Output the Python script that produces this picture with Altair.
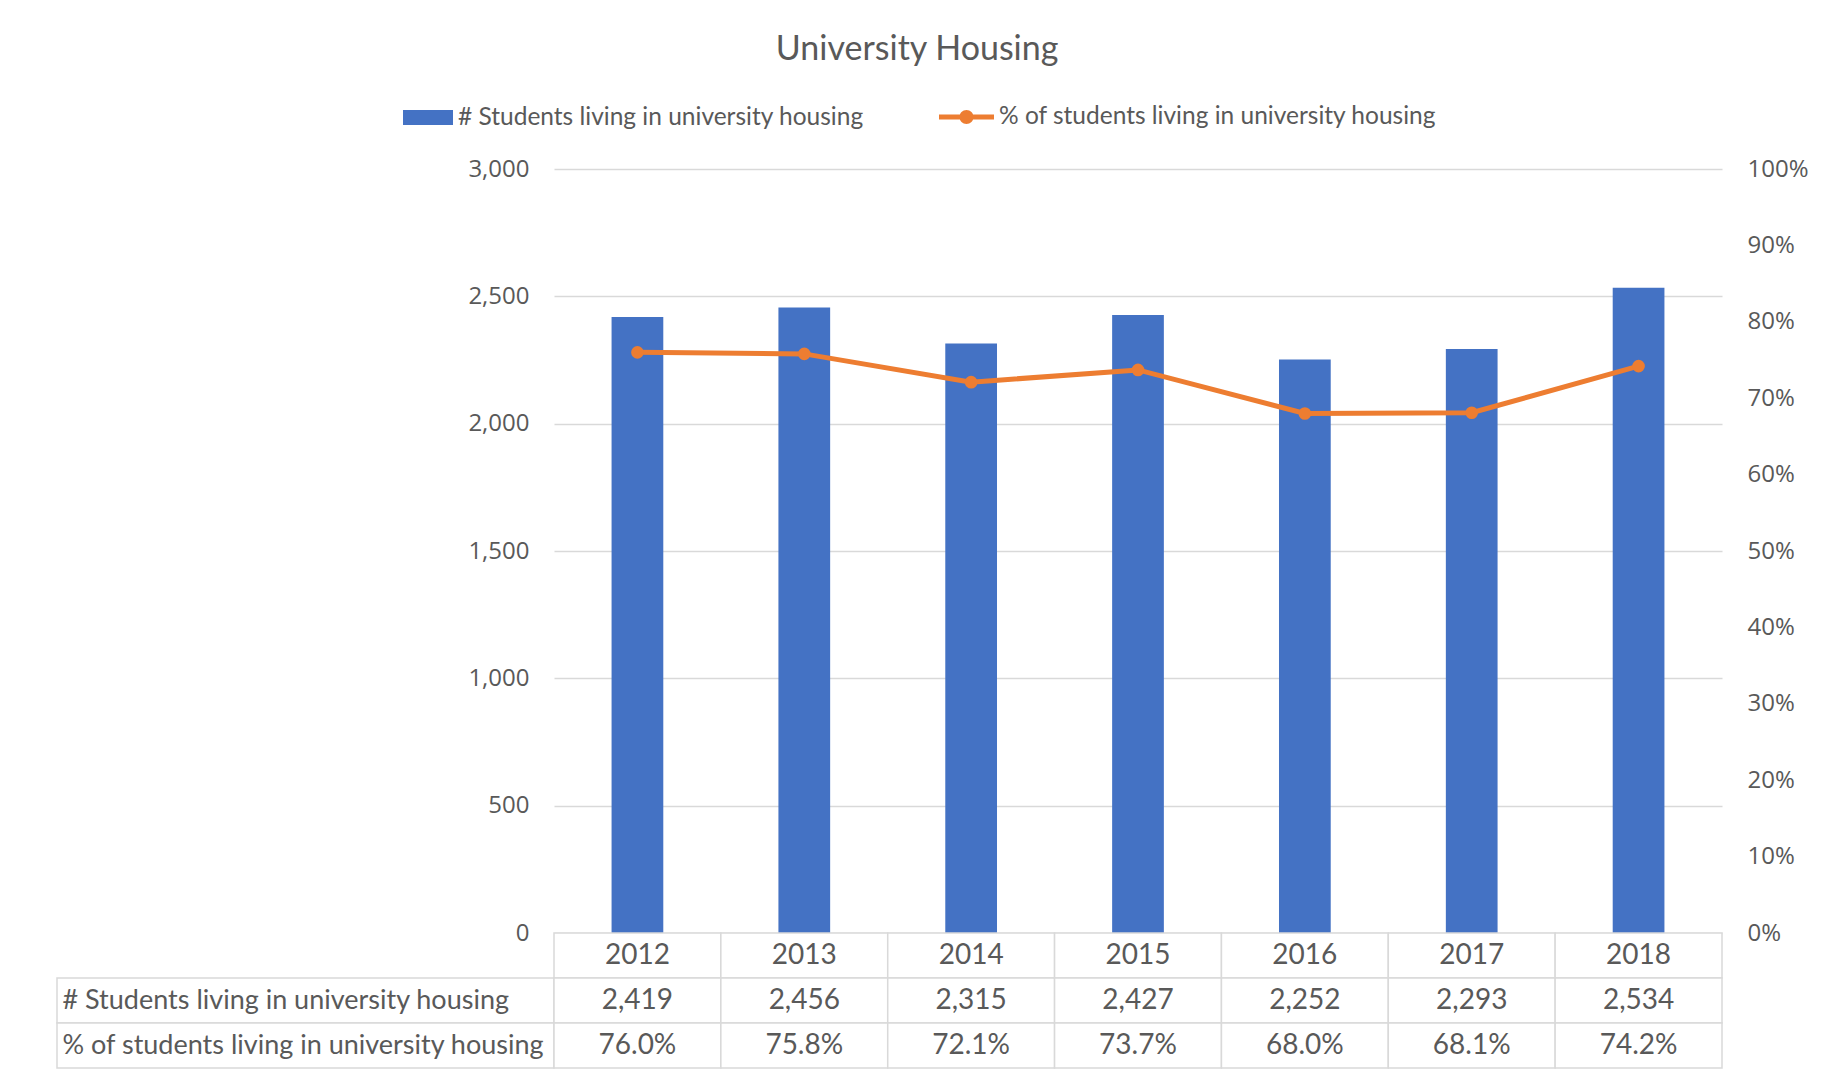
import altair as alt
import pandas as pd

years = ["2012", "2013", "2014", "2015", "2016", "2017", "2018"]
students = [2419, 2456, 2315, 2427, 2252, 2293, 2534]
pct = [76.0, 75.8, 72.1, 73.7, 68.0, 68.1, 74.2]
count_label = "# Students living in university housing"
pct_label = "% of students living in university housing"
title_text = "University Housing"

BLUE = "#4472C4"
ORANGE = "#ED7D31"
GRID = "#D9D9D9"
TEXT = "#595959"
FONT = "Lato"
AXFONT = "Open Sans"

W = 1168
H = 764
ROW_H = 45

df = pd.DataFrame({
    "year": years,
    "students": students,
    "pct": [p / 100 for p in pct],
    "s1": [count_label] * len(years),
    "s2": [pct_label] * len(years),
})

xscale = alt.Scale(domain=years, paddingInner=0.69, paddingOuter=0.345)

bars = alt.Chart(df).mark_bar().encode(
    x=alt.X("year:N", axis=None, scale=xscale),
    y=alt.Y("students:Q", scale=alt.Scale(domain=[0, 3000]),
            axis=alt.Axis(values=list(range(0, 3001, 500)), format=",.0f", grid=True,
                          gridColor=GRID, gridWidth=1.5, domain=False, ticks=False,
                          labelPadding=25, labelFont=AXFONT, labelFontSize=24,
                          labelColor=TEXT, title=None)),
    fill=alt.Fill("s1:N", scale=alt.Scale(domain=[count_label], range=[BLUE]),
                  legend=alt.Legend(orient="none", legendX=-151, legendY=-76.5, title=None,
                                    symbolType="M-1,-0.3H1V0.3H-1Z", symbolSize=2500,
                                    symbolStrokeWidth=0, labelFont=FONT, labelFontSize=24.5,
                                    labelColor=TEXT, labelOffset=5, labelLimit=800)),
)

pct_axis = alt.Axis(orient="right", values=[i / 10 for i in range(11)], format=".0%",
                    grid=False, domain=False, ticks=False, labelPadding=25,
                    labelFont=AXFONT, labelFontSize=24, labelColor=TEXT, title=None)
pct_scale = alt.Scale(domain=[0, 1])

line = alt.Chart(df).mark_line(color=ORANGE, strokeWidth=5).encode(
    x=alt.X("year:N", axis=None, scale=xscale),
    y=alt.Y("pct:Q", scale=pct_scale, axis=pct_axis),
)

points = alt.Chart(df).mark_circle(size=160, opacity=1).encode(
    x=alt.X("year:N", axis=None, scale=xscale),
    y=alt.Y("pct:Q", scale=pct_scale, axis=pct_axis),
    fill=alt.Fill("s2:N", scale=alt.Scale(domain=[pct_label], range=[ORANGE]),
                  legend=alt.Legend(orient="none", legendX=385, legendY=-79.5, title=None,
                                    symbolType="M-1,-0.09H1V0.09H-1Z M0.255,0A0.255,0.255,0,1,1,-0.255,0A0.255,0.255,0,1,1,0.255,0Z",
                                    symbolSize=3025, symbolStrokeWidth=0, labelFont=FONT,
                                    labelFontSize=24.5, labelColor=TEXT, labelOffset=5,
                                    labelLimit=800)),
)

top = alt.layer(bars, alt.layer(line, points)).resolve_scale(
    y="independent", fill="independent"
).properties(width=W, height=H)

# data table
rows = ["Year", count_label, pct_label]
recs = []
for yv, s, p in zip(years, students, pct):
    recs.append({"year": yv, "row": "Year", "text": yv})
    recs.append({"year": yv, "row": count_label, "text": f"{s:,}"})
    recs.append({"year": yv, "row": pct_label, "text": f"{p:.1f}%"})
tdf = pd.DataFrame(recs)
ldf = pd.DataFrame({"row": [count_label, pct_label]})

yrow = alt.Y("row:N", sort=rows,
             scale=alt.Scale(domain=rows, paddingInner=0, paddingOuter=0),
             axis=alt.Axis(values=[count_label, pct_label], orient="left", domain=False,
                           ticks=False, labelAlign="left", labelPadding=492,
                           labelFont=FONT, labelFontSize=27, labelColor=TEXT,
                           labelLimit=800, title=None))
xt = alt.X("year:N", axis=None, scale=alt.Scale(domain=years, paddingInner=0, paddingOuter=0))

cells = alt.Chart(tdf).mark_rect(fill="white", stroke=GRID, strokeWidth=1.5).encode(x=xt, y=yrow)
texts = alt.Chart(tdf).mark_text(font=FONT, fontSize=28, color=TEXT).encode(x=xt, y=yrow, text="text:N")
label_cells = alt.Chart(ldf).mark_rect(fill="white", stroke=GRID, strokeWidth=1.5).encode(
    x=alt.value(-497), x2=alt.value(0), y=yrow)

table = alt.layer(label_cells, cells, texts).properties(width=W, height=ROW_H * 3)

chart = alt.vconcat(top, table, spacing=0, bounds="flush").properties(
    title=alt.TitleParams(title_text, font=FONT, fontSize=34, fontWeight="normal",
                          color=TEXT, anchor="middle", offset=23, dx=-15),
    padding={"left": 48, "top": 24, "right": 10, "bottom": 2},
    background="white",
).configure_view(stroke=None)

chart.save("out.html", embed_options={"renderer": "svg", "actions": False})
